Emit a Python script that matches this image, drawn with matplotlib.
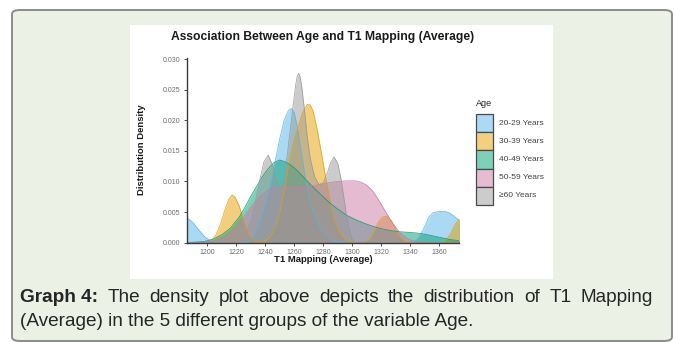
import numpy as np
import matplotlib
matplotlib.use("Agg")
import matplotlib.pyplot as plt
from matplotlib import font_manager
from matplotlib.patches import FancyBboxPatch, Rectangle
from matplotlib.colors import to_rgb

plt.rcParams['font.family'] = ['Liberation Sans', 'DejaVu Sans']

# --- density curves per age group (T1 value, density) ---
AGE_GROUPS = ["20-29 Years", "30-39 Years", "40-49 Years", "50-59 Years", "\u226560 Years"]
GROUP_COLORS = ["#56B4E9", "#E69F00", "#009E73", "#CC79A7", "#999999"]

t1_20_29 = [1185, 1190, 1194, 1198, 1202, 1206, 1228, 1232, 1236, 1240, 1244, 1247, 1250,
            1253, 1256, 1258, 1260, 1262, 1264, 1266, 1268, 1271, 1274, 1278, 1282, 1286,
            1290, 1340, 1344, 1347, 1350, 1353, 1356, 1360, 1364, 1367, 1370, 1375]
dens_20_29 = [0.0042, 0.0033, 0.0021, 0.0010, 0.0003, 0.0, 0.0, 0.0012, 0.0032, 0.0062,
              0.0100, 0.0135, 0.0170, 0.0200, 0.0216, 0.0219, 0.0212, 0.0190, 0.0160,
              0.0130, 0.0100, 0.0068, 0.0045, 0.0025, 0.0012, 0.0005, 0.0001, 0.0, 0.0004,
              0.0012, 0.0026, 0.0042, 0.0049, 0.0051, 0.0051, 0.0049, 0.0044, 0.0034]

t1_30_39 = [1185, 1200, 1203, 1206, 1209, 1212, 1215, 1217, 1219, 1222, 1225, 1228, 1232,
            1236, 1240, 1244, 1248, 1251, 1254, 1257, 1260, 1263, 1266, 1269, 1271, 1273,
            1276, 1279, 1282, 1285, 1288, 1291, 1295, 1300, 1308, 1312, 1315, 1318, 1321,
            1324, 1327, 1330, 1333, 1337, 1342, 1362, 1365, 1368, 1371, 1375]
dens_30_39 = [0.0, 0.0, 0.0004, 0.0013, 0.0030, 0.0053, 0.0072, 0.0078, 0.0075, 0.0060,
              0.0036, 0.0016, 0.0004, 0.0001, 0.0003, 0.0012, 0.0032, 0.0060, 0.0098,
              0.0138, 0.0168, 0.0192, 0.0214, 0.0226, 0.0225, 0.0215, 0.0183, 0.0143,
              0.0102, 0.0064, 0.0035, 0.0018, 0.0006, 0.0001, 0.0, 0.0006, 0.0018, 0.0033,
              0.0042, 0.0043, 0.0036, 0.0022, 0.0010, 0.0002, 0.0, 0.0, 0.0005, 0.0015,
              0.0029, 0.0043]

t1_40_49 = [1185, 1192, 1198, 1204, 1210, 1216, 1222, 1226, 1230, 1234, 1238, 1242, 1246,
            1250, 1254, 1258, 1262, 1266, 1270, 1275, 1280, 1285, 1290, 1296, 1302, 1308,
            1314, 1320, 1326, 1332, 1338, 1344, 1350, 1356, 1362, 1368, 1375]
dens_40_49 = [0.0, 0.0001, 0.0002, 0.0006, 0.0013, 0.0024, 0.0042, 0.0058, 0.0076, 0.0092,
              0.0108, 0.0121, 0.0131, 0.0135, 0.0132, 0.0126, 0.0118, 0.0108, 0.0098,
              0.0086, 0.0075, 0.0064, 0.0055, 0.0045, 0.0038, 0.0032, 0.0027, 0.0023,
              0.0020, 0.0018, 0.0017, 0.0016, 0.0014, 0.0011, 0.0008, 0.0005, 0.0003]

t1_50_59 = [1185, 1200, 1206, 1212, 1218, 1224, 1230, 1236, 1242, 1248, 1254, 1260, 1266,
            1272, 1278, 1284, 1290, 1296, 1302, 1306, 1310, 1314, 1318, 1322, 1326, 1330,
            1334, 1338, 1342, 1348, 1375]
dens_50_59 = [0.0, 0.0001, 0.0004, 0.0010, 0.0022, 0.0038, 0.0058, 0.0075, 0.0086, 0.0091,
              0.0092, 0.0092, 0.0092, 0.0093, 0.0095, 0.0098, 0.0100, 0.0101, 0.0101,
              0.0099, 0.0094, 0.0085, 0.0071, 0.0055, 0.0039, 0.0025, 0.0014, 0.0007,
              0.0003, 0.0001, 0.0]

t1_60 = [1185, 1222, 1226, 1230, 1233, 1236, 1239, 1242, 1245, 1248, 1251, 1253, 1255, 1257,
         1259, 1261, 1262, 1263, 1264, 1265, 1267, 1269, 1271, 1274, 1277, 1280, 1283, 1285,
         1287.5, 1290, 1292, 1294, 1296, 1298, 1300, 1302, 1375]
dens_60 = [0.0, 0.0, 0.0010, 0.0035, 0.0065, 0.0100, 0.0132, 0.0143, 0.0127, 0.0100, 0.0090,
           0.0105, 0.0140, 0.0180, 0.0220, 0.0258, 0.0271, 0.0277, 0.0271, 0.0258, 0.0218,
           0.0172, 0.0138, 0.0108, 0.0095, 0.0098, 0.0115, 0.0130, 0.0140, 0.0130, 0.0108,
           0.0078, 0.0045, 0.0020, 0.0006, 0.0, 0.0]

curves = [(t1_20_29, dens_20_29), (t1_30_39, dens_30_39), (t1_40_49, dens_40_49),
          (t1_50_59, dens_50_59), (t1_60, dens_60)]

x_ticks = [1200, 1220, 1240, 1260, 1280, 1300, 1320, 1340, 1360]
y_ticks = [0.000, 0.005, 0.010, 0.015, 0.020, 0.025, 0.030]

W, H = 675, 342


def fx(px):
    return px / W


def fy(py):
    return 1 - py / H


def light(c, a=0.5):
    r, g, b = to_rgb(c)
    return (1 - a + a * r, 1 - a + a * g, 1 - a + a * b)


# condensed face for the caption when it is available
try:
    font_manager.findfont('Liberation Sans Narrow', fallback_to_default=False)
    cap_family = ['Liberation Sans Narrow', 'Liberation Sans']
except ValueError:
    cap_family = ['Liberation Sans']

fig = plt.figure(figsize=(W / 100, H / 100), dpi=100, facecolor='white')

# card background with rounded border
card = FancyBboxPatch((fx(12), fy(341)), fx(660), (331) / H,
                      boxstyle="round,pad=0,rounding_size=0.012",
                      transform=fig.transFigure, facecolor='#ecf1e6',
                      edgecolor='#8c8c8c', linewidth=1.4, zorder=0)
fig.add_artist(card)
# white panel holding the chart
fig.add_artist(Rectangle((fx(130), fy(279)), fx(423), (254) / H,
                         transform=fig.transFigure, facecolor='white',
                         edgecolor='none', zorder=0.5))

ax = fig.add_axes([fx(186.7), fy(242.7), fx(459 - 186.7), (242.7 - 57.8) / H])
ax.set_zorder(2)
ax.set_facecolor('none')

for (xs, ds), col in zip(curves, GROUP_COLORS):
    ax.fill_between(xs, ds, 0, color=col, alpha=0.5, linewidth=0)
    ax.plot(xs, ds, color=col, linewidth=0.6, alpha=0.85)

ax.set_xlim(1185.7, 1373.8)
ax.set_ylim(0, 0.0302)
ax.set_xticks(x_ticks)
ax.set_yticks(y_ticks)
ax.set_yticklabels([f"{v:.3f}" for v in y_ticks])
ax.tick_params(labelsize=5, colors='#4d4d4d', labelcolor='#6e6e6e',
               length=2.5, width=0.7, pad=2)
for side in ['top', 'right']:
    ax.spines[side].set_visible(False)
for side in ['left', 'bottom']:
    ax.spines[side].set_color('#3a3a3a')
    ax.spines[side].set_linewidth(1.0)

fig.text(fx(323), fy(37), "Association Between Age and T1 Mapping (Average)",
         ha='center', va='center', fontsize=8.7, fontweight='bold', color='#1a1a1a')
fig.text(fx(323), fy(259), "T1 Mapping (Average)", ha='center', va='center',
         fontsize=6.8, fontweight='bold', color='#1a1a1a')
fig.text(fx(141), fy(150), "Distribution Density", ha='center', va='center',
         rotation=90, fontsize=6.8, fontweight='bold', color='#1a1a1a')

# legend
fig.text(fx(476), fy(103), "Age", ha='left', va='center', fontsize=6.5, color='#222222')
key_h = 18.2
for i, (label, col) in enumerate(zip(AGE_GROUPS, GROUP_COLORS)):
    top = 114 + i * key_h
    fig.add_artist(Rectangle((fx(476), fy(top + key_h)), fx(16.5), key_h / H,
                             transform=fig.transFigure, facecolor=light(col),
                             edgecolor='#4a4a4a', linewidth=0.9, zorder=2))
    fig.text(fx(499), fy(top + key_h / 2), label, ha='left', va='center',
             fontsize=6.0, color='#444444')

# caption, first line justified between the margins
left, right = 20, 653
cap_color = '#262626'
line2 = fig.text(fx(left), fy(322), "(Average) in the 5 different groups of the variable Age.",
                 ha='left', va='center', fontsize=10, color=cap_color, family=cap_family)
renderer = fig.canvas.get_renderer()
w2 = line2.get_window_extent(renderer).width
cap_size = 10 * 457 / w2
line2.set_fontsize(cap_size)

words = ["Graph 4:"] + "The density plot above depicts the distribution of T1 Mapping".split()
texts = []
for j, wd in enumerate(words):
    t = fig.text(fx(left), fy(297), wd, ha='left', va='center', fontsize=cap_size,
                 color=cap_color, family=cap_family,
                 fontweight='bold' if j == 0 else 'normal')
    texts.append(t)
widths = [t.get_window_extent(renderer).width for t in texts]
gap = (right - left - sum(widths)) / (len(words) - 1)
xpos = left
for t, w in zip(texts, widths):
    t.set_x(fx(xpos))
    xpos += w + gap

fig.savefig("out.png", dpi=100, facecolor='white')
